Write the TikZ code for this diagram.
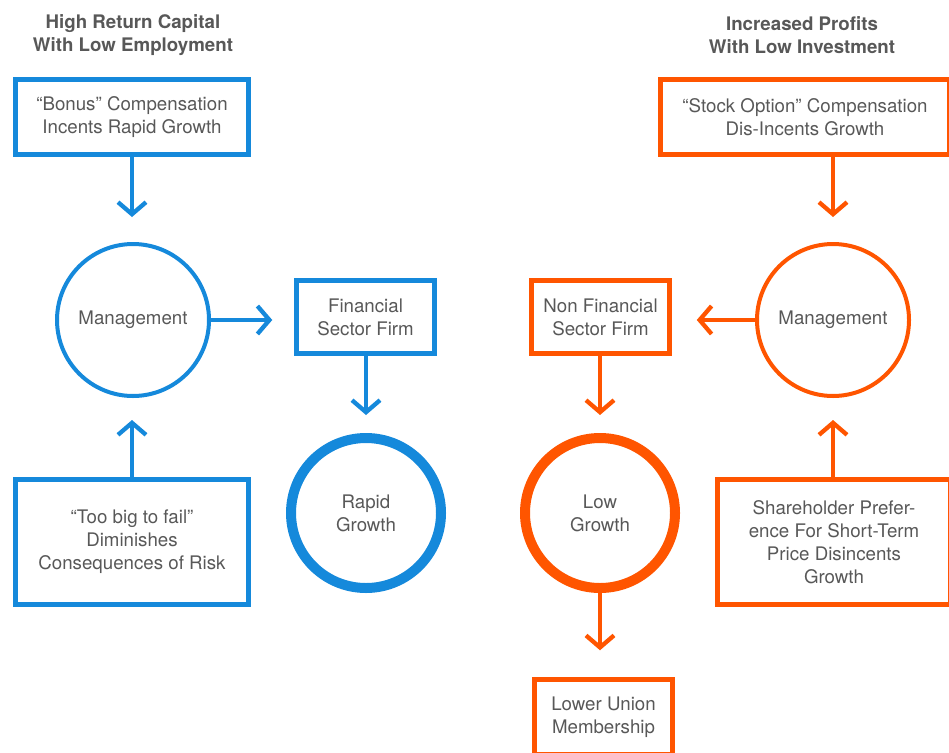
\documentclass[tikz,border=0pt]{standalone}
\usepackage{fontspec}
\setmainfont{TeX Gyre Heros}
\usetikzlibrary{arrows.meta,calc}
\definecolor{fblue}{RGB}{21,137,219}
\definecolor{forange}{RGB}{255,85,0}
\definecolor{tgray}{RGB}{88,88,88}
\begin{document}
\begin{tikzpicture}[x=1pt,y=-1pt,
  every node/.style={font=\fontsize{18.7}{23}\selectfont, text=tgray, align=center},
  bbox/.style={draw=#1, line width=4.5pt, inner sep=0pt},
  circ/.style={draw=#1, circle, line width=4pt, minimum size=152pt, inner sep=0pt},
  fatcirc/.style={draw=#1, circle, line width=10pt, minimum size=150pt, inner sep=0pt},
  arr/.style={draw=#1, line width=4.3pt, -{Straight Barb[length=12pt,width=28pt]}},
  titletext/.style={font=\fontsize{18.7}{23}\selectfont\bfseries}]
\useasboundingbox (0,0) rectangle (949,752);
\clip (0,0) rectangle (949,752);
% titles
\node[titletext] (t1) at (133,35) {High Return Capital\\With Low Employment};
\node[titletext] (t2) at (802,35) {Increased Profits\\With Low Investment};
% left side
\node[bbox=fblue, minimum width=233pt, minimum height=75pt] (bonus) at (132,117) {“Bonus” Compensation\\Incents Rapid Growth};
\node[circ=fblue] (mgmtL) at (133,320) {Management};
\node[bbox=fblue, minimum width=138pt, minimum height=73pt] (fin) at (365.5,317) {Financial\\Sector Firm};
\node[fatcirc=fblue] (rapid) at (366,513) {Rapid\\Growth};
\node[bbox=fblue, minimum width=233pt, minimum height=125pt] (toobig) at (132,542) {“Too big to fail”\\Diminishes\\Consequences of Risk};
% right side
\node[bbox=forange, minimum width=289pt, minimum height=75pt] (stock) at (805,117) {“Stock Option” Compensation\\Dis-Incents Growth};
\node[circ=forange] (mgmtR) at (833,320) {Management};
\node[bbox=forange, minimum width=138pt, minimum height=73pt] (nonfin) at (600.5,317) {Non Financial\\Sector Firm};
\node[fatcirc=forange] (low) at (600,513) {Low\\Growth};
\node[bbox=forange, minimum width=233pt, minimum height=125pt] (share) at (834,542) {Shareholder Prefer-\\ence For Short-Term\\Price Disincents\\Growth};
\node[bbox=forange, minimum width=138pt, minimum height=75pt] (union) at (603.5,717) {Lower Union\\Membership};
% arrows left
\draw[arr=fblue, shorten >=25pt] (bonus.south) -- (bonus.south |- mgmtL.north);
\draw[arr=fblue, shorten >=22pt] (mgmtL.east) -- (fin.west |- mgmtL.east);
\draw[arr=fblue, shorten >=18pt] (fin.south -| rapid.north) -- (rapid.north);
\draw[arr=fblue, shorten >=22pt] (toobig.north) -- (toobig.north |- mgmtL.south);
% arrows right
\draw[arr=forange, shorten >=25pt] (stock.south -| mgmtR.north) -- (mgmtR.north);
\draw[arr=forange, shorten >=25pt] (mgmtR.west) -- (nonfin.east |- mgmtR.west);
\draw[arr=forange, shorten >=18pt] (nonfin.south -| low.north) -- (low.north);
\draw[arr=forange, shorten >=27pt] (low.south) -- (low.south |- union.north);
\draw[arr=forange, shorten >=22pt] (share.north -| mgmtR.south) -- (mgmtR.south);
\end{tikzpicture}
\end{document}
